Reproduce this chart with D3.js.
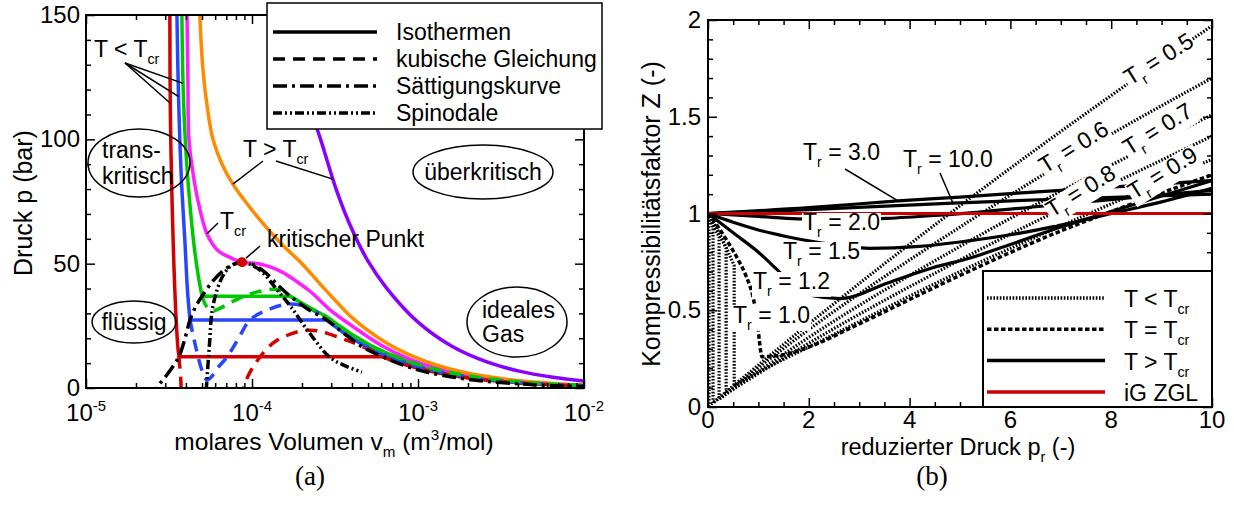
<!DOCTYPE html>
<html>
<head>
<meta charset="utf-8">
<script src="https://cdnjs.cloudflare.com/ajax/libs/d3/7.8.5/d3.min.js"></script>
<style>
    body { margin: 0; background: #fff; }
    text { font-family: "Liberation Sans", Arial, sans-serif; fill: #000; }
    .caption { font-family: "Liberation Serif", serif; }
</style>
</head>
<body>
<div id="chart"></div>
<script>

/* * * * * * * * * * * * * *
*   data (a): p - v_m       *
* * * * * * * * * * * * * */

// x ticks (log), y ticks
const volTicks = [1e-5, 1e-4, 1e-3, 1e-2];
const volTickExp = ["-5", "-4", "-3", "-2"];
const pressTicks = [0, 50, 100, 150];

// isotherms: liquid branch, gas branch (horizontal line in between), cubic loop
const redLiquid = [[3.2e-5, 150], [3.22e-5, 112], [3.3e-5, 75], [3.45e-5, 35], [3.58e-5, 16], [3.63e-5, 12.6]];
const redGas = [[6.1e-4, 12.6], [7e-4, 11.1], [1e-3, 7.9], [1.6e-3, 5.1], [2.5e-3, 3.3], [4e-3, 2.1], [6.5e-3, 1.3], [1e-2, 0.85]];
const redLoop = [[3.63e-5, 12.6], [3.72e-5, 4], [3.8e-5, -6], [5e-5, -40], [7.5e-5, -30], [8.6e-5, -6], [8.9e-5, 0], [9.5e-5, 5],
    [1.05e-4, 10], [1.2e-4, 15], [1.4e-4, 19], [1.86e-4, 22.5], [2.2e-4, 23.2], [2.56e-4, 22.8], [3.38e-4, 20.2],
    [4.05e-4, 18.3], [5.35e-4, 14.8], [6.1e-4, 12.6]];

const blueLiquid = [[3.53e-5, 150], [3.6e-5, 120], [3.75e-5, 85], [3.95e-5, 58], [4.08e-5, 40], [4.23e-5, 27.3]];
const blueGas = [[2.83e-4, 27.3], [4e-4, 20], [6e-4, 13.9], [1e-3, 8.6], [1.6e-3, 5.5], [2.5e-3, 3.6], [4e-3, 2.27], [6.5e-3, 1.41], [1e-2, 0.91]];
const blueLoop = [[4.23e-5, 27.3], [4.6e-5, 16], [5.0e-5, 7], [5.35e-5, 3.2], [5.7e-5, 4.5], [6.2e-5, 8], [7.06e-5, 12.4],
    [8.3e-5, 20], [9.7e-5, 27.3], [1.23e-4, 31.3], [1.69e-4, 33.8], [2.23e-4, 32], [2.83e-4, 27.3]];

const greenLiquid = [[3.78e-5, 150], [3.85e-5, 120], [4.0e-5, 95], [4.25e-5, 72], [4.5e-5, 56], [4.75e-5, 45], [5.0e-5, 36.9]];
const greenGas = [[1.7e-4, 36.9], [2.2e-4, 32.5], [2.83e-4, 28.5], [4e-4, 21.5], [6e-4, 15], [1e-3, 9.5], [1.6e-3, 6.1],
    [2.5e-3, 3.98], [4e-3, 2.5], [6.5e-3, 1.55], [1e-2, 1.01]];
const greenLoop = [[5.0e-5, 36.9], [5.3e-5, 33], [5.75e-5, 31], [6.3e-5, 31.8], [7.5e-5, 34.5], [9e-5, 37], [1.1e-4, 38.8],
    [1.4e-4, 39.6], [1.7e-4, 36.9]];

const critIso = [[4.06e-5, 150], [4.11e-5, 125], [4.17e-5, 100], [4.4e-5, 87], [4.72e-5, 75.5], [5.35e-5, 62], [6.2e-5, 55.4],
    [7.36e-5, 52.5], [8.7e-5, 50.6], [1.1e-4, 50], [1.3e-4, 48.6], [1.53e-4, 46.5], [1.8e-4, 43.5], [2.23e-4, 39],
    [3e-4, 31], [4e-4, 25], [6e-4, 17.2], [1e-3, 10.3], [1.6e-3, 6.6], [2.5e-3, 4.25], [4e-3, 2.65], [6.5e-3, 1.63], [1e-2, 1.06]];

const orangeIso = [[4.85e-5, 150], [5.05e-5, 129], [5.4e-5, 112], [5.82e-5, 100], [6.6e-5, 90], [7.67e-5, 82], [9e-5, 75.5],
    [1.12e-4, 67.5], [1.5e-4, 58], [2e-4, 50], [2.56e-4, 42], [3.2e-4, 35], [4.05e-4, 28], [6.5e-4, 18], [1e-3, 11.9],
    [1.6e-3, 7.45], [2.5e-3, 4.8], [4e-3, 3.0], [6.5e-3, 1.86], [1e-2, 1.21]];

const purpleIso = [[1.5e-4, 150], [1.9e-4, 126], [2.56e-4, 101], [3.25e-4, 79], [4.05e-4, 63], [5e-4, 51], [6.5e-4, 40],
    [1e-3, 26.5], [1.6e-3, 16.8], [2.6e-3, 10.5], [4e-3, 6.9], [6.5e-3, 4.3], [1e-2, 2.8]];

const satCurve = [[2.5e-5, -5], [2.67e-5, 0], [3.05e-5, 5], [3.4e-5, 9.5], [3.63e-5, 12.6], [3.95e-5, 20], [4.23e-5, 27.3],
    [4.6e-5, 33], [5e-5, 36.9], [5.8e-5, 43], [6.8e-5, 47.5], [7.8e-5, 49.8], [8.7e-5, 50.6], [1.0e-4, 49.8], [1.2e-4, 46.5],
    [1.45e-4, 41], [1.7e-4, 36.9], [2.2e-4, 31.5], [2.83e-4, 27.3], [3.5e-4, 22.5], [4.5e-4, 17], [6.1e-4, 12.6],
    [1e-3, 7.3], [2e-3, 3.5], [5e-3, 1.3], [1e-2, 0.6]];

const spinodal = [[5.2e-5, -10], [5.35e-5, 3.2], [5.55e-5, 18], [5.75e-5, 31], [6.2e-5, 40], [6.8e-5, 46], [7.6e-5, 49.5],
    [8.7e-5, 50.6], [1.117e-4, 47.4], [1.41e-4, 39.6], [1.72e-4, 32.5], [2.2e-4, 22.5], [2.94e-4, 12.4], [3.62e-4, 9], [4.59e-4, 6.4]];

const critPoint = [8.7e-5, 50.6];

/* * * * * * * * * * * * * *
*   data (b): Z - p_r       *
* * * * * * * * * * * * * */

const prTicks = [0, 2, 4, 6, 8, 10];
const zTicks = [0, 0.5, 1, 1.5, 2];

// T < Tcr (dotted): vapour branch, drop at p_sat, liquid branch
const zTr05 = [[0, 1], [0.01, 0.985], [0.02, 0.97], [0.02, 0.005], [2, 0.43], [5, 1.04], [8, 1.61], [10, 1.97]];
const zTr06 = [[0, 1], [0.05, 0.965], [0.1, 0.93], [0.1, 0.02], [2, 0.40], [5, 0.93], [8, 1.41], [10, 1.70]];
const zTr07 = [[0, 1], [0.1, 0.94], [0.22, 0.88], [0.22, 0.04], [2, 0.36], [5, 0.83], [8, 1.25], [10, 1.51]];
const zTr08 = [[0, 1], [0.12, 0.94], [0.25, 0.88], [0.36, 0.82], [0.36, 0.07], [2, 0.33], [5, 0.76], [8, 1.15], [10, 1.40]];
const zTr09 = [[0, 1], [0.2, 0.91], [0.35, 0.83], [0.52, 0.73], [0.52, 0.11], [1, 0.18], [2, 0.31], [5, 0.70], [8, 1.05], [10, 1.28]];
// T = Tcr (dashed)
const zTr10 = [[0, 1], [0.2, 0.93], [0.4, 0.85], [0.6, 0.76], [0.75, 0.68], [0.9, 0.56], [0.98, 0.44], [1.02, 0.34],
    [1.07, 0.26], [1.5, 0.27], [2, 0.31], [3, 0.43], [5, 0.68], [7, 0.91], [8, 1.01], [10, 1.2]];
// T > Tcr (solid)
const zTr12 = [[0, 1], [0.5, 0.9], [1, 0.8], [1.37, 0.71], [1.7, 0.63], [2.08, 0.575], [2.62, 0.56], [3.55, 0.64],
    [4.46, 0.72], [5.2, 0.77], [6, 0.84], [7, 0.93], [8, 1.01], [9, 1.09], [10, 1.17]];
const zTr15 = [[0, 1], [0.5, 0.955], [1, 0.915], [1.57, 0.88], [2.2, 0.85], [3.2, 0.82], [4.2, 0.83], [5.2, 0.86], [6, 0.89],
    [7, 0.94], [8, 1.0], [9, 1.06], [10, 1.13]];
const zTr20 = [[0, 1], [1, 0.985], [1.77, 0.972], [2.6, 0.968], [3.55, 0.975], [4.5, 0.99], [5.5, 1.01], [6.5, 1.035],
    [7.5, 1.06], [8.5, 1.085], [10, 1.12]];
const zTr30 = [[0, 1], [2, 1.03], [3.77, 1.065], [5, 1.085], [7, 1.12], [10, 1.17]];
const zTr100 = [[0, 1], [2, 1.02], [4.86, 1.054], [7, 1.075], [10, 1.1]];
// ideal gas
const zIdeal = [[0, 1], [10, 1]];


/* * * * * * * * * * * * * *
*          drawing          *
* * * * * * * * * * * * * */

const svg = d3.select("#chart").append("svg")
    .attr("width", 1234)
    .attr("height", 508);
svg.append("rect").attr("width", 1234).attr("height", 508).attr("fill", "#fff");

// text with sub / superscripts: parts = [[string, ""|"sub"|"sup"], ...]
function richText(t, parts, fs) {
    let shift = 0;
    parts.forEach(([s, m]) => {
        let target = m === "sub" ? fs * 0.3 : (m === "sup" ? -fs * 0.42 : 0);
        t.append("tspan")
            .attr("dy", target - shift)
            .attr("font-size", m ? fs * 0.62 : fs)
            .text(s);
        shift = target;
    });
    return t;
}

function addText(g, x, y, parts, fs, anchor) {
    let t = g.append("text")
        .attr("x", x)
        .attr("y", y)
        .attr("font-size", fs)
        .attr("text-anchor", anchor || "start");
    return richText(t, parts, fs);
}

// split a curve where it jumps vertically (same x twice), smooth each piece
function piecePath(line, pts) {
    let segs = [[pts[0]]];
    for (let i = 1; i < pts.length; i++) {
        if (pts[i][0] === pts[i - 1][0] || pts[i][1] === pts[i - 1][1]) segs.push([pts[i]]);
        else segs[segs.length - 1].push(pts[i]);
    }
    return segs.map((s, i) => {
        let p = s.length > 1 ? line(s) : "M" + line.x()(s[0]) + "," + line.y()(s[0]);
        return i === 0 ? p : "L" + p.slice(1);
    }).join("");
}

/* ---------------- panel (a) ---------------- */

let xL = d3.scaleLog().domain([1e-5, 1e-2]).range([86, 584]);
let yL = d3.scaleLinear().domain([0, 150]).range([388, 15]);

let gA = svg.append("g");
gA.append("clipPath").attr("id", "clipA")
    .append("rect")
    .attr("x", xL(1e-5)).attr("y", yL(150))
    .attr("width", xL(1e-2) - xL(1e-5)).attr("height", yL(0) - yL(150));

let plotA = gA.append("g").attr("clip-path", "url(#clipA)");
let lineA = d3.line()
    .x(d => xL(d[0]))
    .y(d => yL(d[1]))
    .curve(d3.curveCatmullRom.alpha(0.5));

let isotherms = [
    { col: "#d20000", solid: redLiquid.concat(redGas), dashed: redLoop.concat(redGas) },
    { col: "#2846ff", solid: blueLiquid.concat(blueGas), dashed: blueLoop.concat(blueGas) },
    { col: "#00c800", solid: greenLiquid.concat(greenGas), dashed: greenLoop.concat(greenGas) },
    { col: "#ff1eff", solid: critIso },
    { col: "#ff8a00", solid: orangeIso },
    { col: "#8a00ff", solid: purpleIso }
];

isotherms.forEach(d => {
    plotA.append("path")
        .attr("d", piecePath(lineA, d.solid))
        .attr("fill", "none")
        .attr("stroke", d.col)
        .attr("stroke-width", 3.5);
});
isotherms.filter(d => d.dashed).forEach(d => {
    plotA.append("path")
        .attr("d", lineA(d.dashed))
        .attr("fill", "none")
        .attr("stroke", d.col)
        .attr("stroke-width", 3.5)
        .attr("stroke-dasharray", "12,8");
});

plotA.append("path")
    .attr("d", lineA(satCurve))
    .attr("fill", "none")
    .attr("stroke", "#000")
    .attr("stroke-width", 3.5)
    .attr("stroke-dasharray", "14,5,3,5");

plotA.append("path")
    .attr("d", lineA(spinodal))
    .attr("fill", "none")
    .attr("stroke", "#000")
    .attr("stroke-width", 3.5)
    .attr("stroke-dasharray", "9,3,2,3,2,3");

plotA.append("circle")
    .attr("cx", xL(critPoint[0]))
    .attr("cy", yL(critPoint[1]))
    .attr("r", 5)
    .attr("fill", "#d20000");

// axes (ticks inward)
function tickAxis(g, axis) {
    g.call(axis);
    g.select(".domain").remove();
    g.selectAll(".tick line").attr("stroke", "#000").attr("stroke-width", 1.5);
    g.selectAll(".tick text").remove();
}
let minorVol = [];
[1e-5, 1e-4, 1e-3].forEach(dec => { for (let m = 2; m <= 9; m++) minorVol.push(dec * m); });
let minorPress = d3.range(0, 151, 10).filter(v => v % 50 !== 0);

tickAxis(gA.append("g").attr("transform", `translate(0,${yL(0)})`),
    d3.axisBottom(xL).tickValues(volTicks).tickSize(-9));
tickAxis(gA.append("g").attr("transform", `translate(0,${yL(0)})`),
    d3.axisBottom(xL).tickValues(minorVol).tickSize(-5));
tickAxis(gA.append("g").attr("transform", `translate(0,${yL(150)})`),
    d3.axisTop(xL).tickValues(volTicks).tickSize(-9));
tickAxis(gA.append("g").attr("transform", `translate(0,${yL(150)})`),
    d3.axisTop(xL).tickValues(minorVol).tickSize(-5));
tickAxis(gA.append("g").attr("transform", `translate(${xL(1e-5)},0)`),
    d3.axisLeft(yL).tickValues(pressTicks).tickSize(-9));
tickAxis(gA.append("g").attr("transform", `translate(${xL(1e-5)},0)`),
    d3.axisLeft(yL).tickValues(minorPress).tickSize(-5));
tickAxis(gA.append("g").attr("transform", `translate(${xL(1e-2)},0)`),
    d3.axisRight(yL).tickValues(pressTicks).tickSize(-9));
tickAxis(gA.append("g").attr("transform", `translate(${xL(1e-2)},0)`),
    d3.axisRight(yL).tickValues(minorPress).tickSize(-5));

gA.append("rect")
    .attr("x", xL(1e-5)).attr("y", yL(150))
    .attr("width", xL(1e-2) - xL(1e-5)).attr("height", yL(0) - yL(150))
    .attr("fill", "none").attr("stroke", "#000").attr("stroke-width", 2);

volTicks.forEach((v, i) => addText(gA, xL(v), yL(0) + 33, [["10", ""], [volTickExp[i], "sup"]], 24, "middle"));
pressTicks.forEach(p => addText(gA, xL(1e-5) - 6, yL(p) + 8, [[String(p), ""]], 24, "end"));

addText(gA, 334, 450, [["molares Volumen v", ""], ["m", "sub"], [" (m", ""], ["3", "sup"], ["/mol)", ""]], 24.5, "middle");
addText(gA.append("g").attr("transform", "translate(32,203) rotate(-90)"), 0, 0, [["Druck p (bar)", ""]], 25, "middle");

// annotations
function pointer(g, x1, y1, x2, y2) {
    g.append("line").attr("x1", x1).attr("y1", y1).attr("x2", x2).attr("y2", y2)
        .attr("stroke", "#000").attr("stroke-width", 1.5);
}
addText(gA, 94, 57, [["T < T", ""], ["cr", "sub"]], 23);
[[3.22e-5, 114.5], [3.6e-5, 117.3], [3.85e-5, 122.5]].forEach(d => pointer(gA, 125, 63, xL(d[0]), yL(d[1])));

addText(gA, 243, 157, [["T > T", ""], ["cr", "sub"]], 23);
pointer(gA, 263, 161, xL(7.67e-5), yL(82));
pointer(gA, 276, 161, xL(3.07e-4), yL(84));

addText(gA, 220, 229, [["T", ""], ["cr", "sub"]], 23);
pointer(gA, 218, 223, xL(5.35e-5), yL(62));

addText(gA, 267, 247, [["kritischer Punkt", ""]], 23);
pointer(gA, 260, 246, xL(critPoint[0]) + 4, yL(critPoint[1]) - 4);

function region(g, cx, cy, rx, ry, lines, anchorX) {
    g.append("ellipse").attr("cx", cx).attr("cy", cy).attr("rx", rx).attr("ry", ry)
        .attr("fill", "none").attr("stroke", "#000").attr("stroke-width", 1.5);
    lines.forEach(l => addText(g, anchorX === undefined ? cx : anchorX, l[1], [[l[0], ""]], 23,
        anchorX === undefined ? "middle" : "start"));
}
region(gA, 139, 163, 51, 34, [["trans-", 158], ["kritisch", 184]], 102);
region(gA, 134, 322, 42, 21, [["flüssig", 330]]);
region(gA, 483, 172, 70, 27, [["überkritisch", 180]]);
region(gA, 517, 322, 50, 35, [["ideales", 318], ["Gas", 342]], 482);

// legend (a)
let legA = gA.append("g");
legA.append("rect").attr("x", 267).attr("y", 3).attr("width", 335).attr("height", 126)
    .attr("fill", "#fff").attr("stroke", "#000").attr("stroke-width", 1.5);
[["Isothermen", null], ["kubische Gleichung", "12,8"], ["Sättigungskurve", "14,5,3,5"], ["Spinodale", "9,3,2,3,2,3"]]
    .forEach((d, i) => {
        let y = 32 + i * 27;
        legA.append("line").attr("x1", 273).attr("x2", 377).attr("y1", y).attr("y2", y)
            .attr("stroke", "#000").attr("stroke-width", 3.5)
            .attr("stroke-dasharray", d[1]);
        addText(legA, 396, y + 8, [[d[0], ""]], 23);
    });

addText(svg, 310, 485, [["(a)", ""]], 27, "middle").attr("class", "caption");

/* ---------------- panel (b) ---------------- */

let xR = d3.scaleLinear().domain([0, 10]).range([708, 1212]);
let yR = d3.scaleLinear().domain([0, 2]).range([407, 20]);

let gB = svg.append("g");
gB.append("clipPath").attr("id", "clipB")
    .append("rect")
    .attr("x", xR(0)).attr("y", yR(2))
    .attr("width", xR(10) - xR(0)).attr("height", yR(0) - yR(2));
let plotB = gB.append("g").attr("clip-path", "url(#clipB)");

let lineB = d3.line()
    .x(d => xR(d[0]))
    .y(d => yR(d[1]))
    .curve(d3.curveMonotoneX);

let zCurves = [
    { pts: zTr05, dash: "1.6,1.6", w: 3.2 },
    { pts: zTr06, dash: "1.6,1.6", w: 3.2 },
    { pts: zTr07, dash: "1.6,1.6", w: 3.2 },
    { pts: zTr08, dash: "1.6,1.6", w: 3.2 },
    { pts: zTr09, dash: "1.6,1.6", w: 3.2 },
    { pts: zTr10, dash: "4.5,2.5", w: 3.5 },
    { pts: zTr12, dash: null, w: 3.2 },
    { pts: zTr15, dash: null, w: 3.2 },
    { pts: zTr20, dash: null, w: 3.2 },
    { pts: zTr30, dash: null, w: 3.2 },
    { pts: zTr100, dash: null, w: 3.2 }
];
zCurves.forEach(c => {
    plotB.append("path")
        .attr("d", piecePath(lineB, c.pts))
        .attr("fill", "none")
        .attr("stroke", "#000")
        .attr("stroke-width", c.w)
        .attr("stroke-dasharray", c.dash);
});
plotB.append("path")
    .attr("d", lineB(zIdeal))
    .attr("fill", "none")
    .attr("stroke", "#cc0000")
    .attr("stroke-width", 3.2);

// labels with white background
function trLabel(g, x, y, val, angle, bg) {
    let lab = g.append("g").attr("transform", `translate(${x},${y}) rotate(${angle})`);
    let rect = lab.append("rect").attr("fill", "#fff");
    let t = addText(lab, 0, 0, [["T", ""], ["r", "sub"], [" = " + val, ""]], 23);
    if (bg) {
        let bb = t.node().getBBox();
        rect.attr("x", bb.x - 1).attr("y", bb.y + 4).attr("width", bb.width + 2).attr("height", bb.height - 6);
    }
}
trLabel(gB, 803, 160, "3.0", 0, false);
trLabel(gB, 903, 167, "10.0", 0, false);
pointer(gB, 845, 169, xR(3.77), yR(1.065));
pointer(gB, 940, 173, xR(4.86), yR(1.054));
trLabel(gB, 803, 230, "2.0", 0, true);
trLabel(gB, 783, 259, "1.5", 0, true);
trLabel(gB, 753, 289, "1.2", 0, true);
trLabel(gB, 733, 323, "1.0", 0, true);
trLabel(gB, 1130, 86, "0.5", -32, true);
trLabel(gB, 1045, 174, "0.6", -32, true);
trLabel(gB, 1129, 156, "0.7", -32, true);
trLabel(gB, 1052, 218, "0.8", -32, true);
trLabel(gB, 1134, 200, "0.9", -32, true);

// axes (b)
let minorPr = d3.range(0, 10.01, 0.5).filter(v => v % 2 !== 0);
let minorZ = d3.range(0, 2.001, 0.1).map(v => +v.toFixed(1)).filter(v => Math.abs(v * 2 - Math.round(v * 2)) > 1e-6);

tickAxis(gB.append("g").attr("transform", `translate(0,${yR(0)})`),
    d3.axisBottom(xR).tickValues(prTicks).tickSize(-9));
tickAxis(gB.append("g").attr("transform", `translate(0,${yR(0)})`),
    d3.axisBottom(xR).tickValues(minorPr).tickSize(-5));
tickAxis(gB.append("g").attr("transform", `translate(0,${yR(2)})`),
    d3.axisTop(xR).tickValues(prTicks).tickSize(-9));
tickAxis(gB.append("g").attr("transform", `translate(0,${yR(2)})`),
    d3.axisTop(xR).tickValues(minorPr).tickSize(-5));
tickAxis(gB.append("g").attr("transform", `translate(${xR(0)},0)`),
    d3.axisLeft(yR).tickValues(zTicks).tickSize(-9));
tickAxis(gB.append("g").attr("transform", `translate(${xR(0)},0)`),
    d3.axisLeft(yR).tickValues(minorZ).tickSize(-5));
tickAxis(gB.append("g").attr("transform", `translate(${xR(10)},0)`),
    d3.axisRight(yR).tickValues(zTicks).tickSize(-9));
tickAxis(gB.append("g").attr("transform", `translate(${xR(10)},0)`),
    d3.axisRight(yR).tickValues(minorZ).tickSize(-5));

gB.append("rect")
    .attr("x", xR(0)).attr("y", yR(2))
    .attr("width", xR(10) - xR(0)).attr("height", yR(0) - yR(2))
    .attr("fill", "none").attr("stroke", "#000").attr("stroke-width", 2);

prTicks.forEach(v => addText(gB, xR(v), yR(0) + 21, [[String(v), ""]], 24, "middle"));
zTicks.forEach(v => addText(gB, xR(0) - 7, yR(v) + 8, [[String(v), ""]], 24, "end"));

addText(gB, 958, 455, [["reduzierter Druck p", ""], ["r", "sub"], [" (-)", ""]], 23.5, "middle");
addText(gB.append("g").attr("transform", "translate(660,214) rotate(-90)"), 0, 0,
    [["Kompressibilitätsfaktor Z (-)", ""]], 25, "middle");

// legend (b)
let legB = gB.append("g");
legB.append("rect").attr("x", 983).attr("y", 271).attr("width", 229).attr("height", 136)
    .attr("fill", "#fff").attr("stroke", "#000").attr("stroke-width", 2);
[
    { parts: [["T < T", ""], ["cr", "sub"]], dash: "1.6,1.6", col: "#000" },
    { parts: [["T = T", ""], ["cr", "sub"]], dash: "4.5,2.5", col: "#000" },
    { parts: [["T > T", ""], ["cr", "sub"]], dash: null, col: "#000" },
    { parts: [["iG ZGL", ""]], dash: null, col: "#cc0000" }
].forEach((d, i) => {
    let y = 298 + i * 31.3;
    legB.append("line").attr("x1", 987).attr("x2", 1105).attr("y1", y).attr("y2", y)
        .attr("stroke", d.col).attr("stroke-width", 3.5)
        .attr("stroke-dasharray", d.dash);
    addText(legB, 1124, y + 9, d.parts, 23);
});

addText(svg, 932, 485, [["(b)", ""]], 27, "middle").attr("class", "caption");

</script>
</body>
</html>
